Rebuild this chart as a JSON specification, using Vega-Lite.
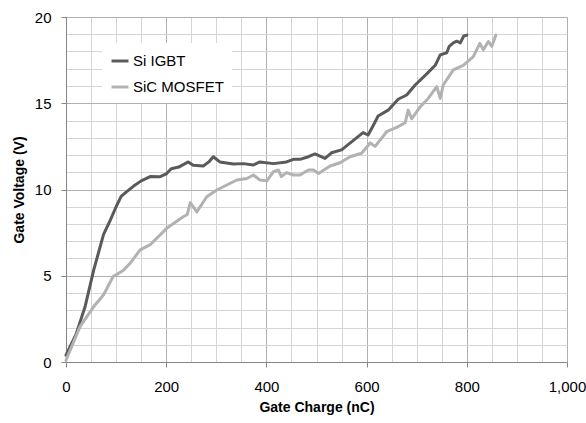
{
  "$schema": "https://vega.github.io/schema/vega-lite/v6.json",
  "autosize": "none",
  "width": 501,
  "height": 345,
  "padding": {"left": 66, "top": 17, "right": 19, "bottom": 61},
  "background": "white",
  "config": {
    "view": {"stroke": null},
    "font": "Liberation Sans"
  },
  "datasets": {
    "curves": [
      {"q": 0, "v": 0.4, "series": "Si IGBT"},
      {"q": 20, "v": 1.6, "series": "Si IGBT"},
      {"q": 38, "v": 3.2, "series": "Si IGBT"},
      {"q": 55, "v": 5.3, "series": "Si IGBT"},
      {"q": 75, "v": 7.4, "series": "Si IGBT"},
      {"q": 88, "v": 8.2, "series": "Si IGBT"},
      {"q": 100, "v": 9.0, "series": "Si IGBT"},
      {"q": 110, "v": 9.6, "series": "Si IGBT"},
      {"q": 120, "v": 9.85, "series": "Si IGBT"},
      {"q": 135, "v": 10.2, "series": "Si IGBT"},
      {"q": 150, "v": 10.5, "series": "Si IGBT"},
      {"q": 168, "v": 10.75, "series": "Si IGBT"},
      {"q": 188, "v": 10.74, "series": "Si IGBT"},
      {"q": 200, "v": 10.9, "series": "Si IGBT"},
      {"q": 210, "v": 11.2, "series": "Si IGBT"},
      {"q": 225, "v": 11.3, "series": "Si IGBT"},
      {"q": 244, "v": 11.6, "series": "Si IGBT"},
      {"q": 254, "v": 11.4, "series": "Si IGBT"},
      {"q": 274, "v": 11.36, "series": "Si IGBT"},
      {"q": 285, "v": 11.6, "series": "Si IGBT"},
      {"q": 294, "v": 11.9, "series": "Si IGBT"},
      {"q": 307, "v": 11.6, "series": "Si IGBT"},
      {"q": 334, "v": 11.48, "series": "Si IGBT"},
      {"q": 354, "v": 11.5, "series": "Si IGBT"},
      {"q": 374, "v": 11.42, "series": "Si IGBT"},
      {"q": 387, "v": 11.6, "series": "Si IGBT"},
      {"q": 414, "v": 11.5, "series": "Si IGBT"},
      {"q": 440, "v": 11.6, "series": "Si IGBT"},
      {"q": 454, "v": 11.75, "series": "Si IGBT"},
      {"q": 467, "v": 11.75, "series": "Si IGBT"},
      {"q": 484, "v": 11.9, "series": "Si IGBT"},
      {"q": 497, "v": 12.06, "series": "Si IGBT"},
      {"q": 517, "v": 11.8, "series": "Si IGBT"},
      {"q": 530, "v": 12.13, "series": "Si IGBT"},
      {"q": 550, "v": 12.3, "series": "Si IGBT"},
      {"q": 573, "v": 12.83, "series": "Si IGBT"},
      {"q": 593, "v": 13.3, "series": "Si IGBT"},
      {"q": 603, "v": 13.16, "series": "Si IGBT"},
      {"q": 613, "v": 13.7, "series": "Si IGBT"},
      {"q": 623, "v": 14.26, "series": "Si IGBT"},
      {"q": 643, "v": 14.6, "series": "Si IGBT"},
      {"q": 663, "v": 15.23, "series": "Si IGBT"},
      {"q": 680, "v": 15.48, "series": "Si IGBT"},
      {"q": 697, "v": 16.06, "series": "Si IGBT"},
      {"q": 720, "v": 16.7, "series": "Si IGBT"},
      {"q": 737, "v": 17.2, "series": "Si IGBT"},
      {"q": 747, "v": 17.8, "series": "Si IGBT"},
      {"q": 760, "v": 17.93, "series": "Si IGBT"},
      {"q": 765, "v": 18.3, "series": "Si IGBT"},
      {"q": 773, "v": 18.5, "series": "Si IGBT"},
      {"q": 780, "v": 18.6, "series": "Si IGBT"},
      {"q": 787, "v": 18.5, "series": "Si IGBT"},
      {"q": 794, "v": 18.9, "series": "Si IGBT"},
      {"q": 800, "v": 18.95, "series": "Si IGBT"},
      {"q": 0, "v": 0.1, "series": "SiC MOSFET"},
      {"q": 28, "v": 2.05, "series": "SiC MOSFET"},
      {"q": 55, "v": 3.2, "series": "SiC MOSFET"},
      {"q": 75, "v": 3.9, "series": "SiC MOSFET"},
      {"q": 94, "v": 4.95, "series": "SiC MOSFET"},
      {"q": 114, "v": 5.3, "series": "SiC MOSFET"},
      {"q": 128, "v": 5.72, "series": "SiC MOSFET"},
      {"q": 148, "v": 6.5, "series": "SiC MOSFET"},
      {"q": 168, "v": 6.8, "series": "SiC MOSFET"},
      {"q": 201, "v": 7.75, "series": "SiC MOSFET"},
      {"q": 234, "v": 8.42, "series": "SiC MOSFET"},
      {"q": 242, "v": 8.55, "series": "SiC MOSFET"},
      {"q": 248, "v": 9.24, "series": "SiC MOSFET"},
      {"q": 261, "v": 8.7, "series": "SiC MOSFET"},
      {"q": 281, "v": 9.58, "series": "SiC MOSFET"},
      {"q": 301, "v": 9.97, "series": "SiC MOSFET"},
      {"q": 321, "v": 10.26, "series": "SiC MOSFET"},
      {"q": 341, "v": 10.55, "series": "SiC MOSFET"},
      {"q": 361, "v": 10.64, "series": "SiC MOSFET"},
      {"q": 374, "v": 10.84, "series": "SiC MOSFET"},
      {"q": 387, "v": 10.55, "series": "SiC MOSFET"},
      {"q": 401, "v": 10.5, "series": "SiC MOSFET"},
      {"q": 414, "v": 11.04, "series": "SiC MOSFET"},
      {"q": 424, "v": 11.13, "series": "SiC MOSFET"},
      {"q": 430, "v": 10.75, "series": "SiC MOSFET"},
      {"q": 440, "v": 10.98, "series": "SiC MOSFET"},
      {"q": 454, "v": 10.84, "series": "SiC MOSFET"},
      {"q": 467, "v": 10.84, "series": "SiC MOSFET"},
      {"q": 484, "v": 11.13, "series": "SiC MOSFET"},
      {"q": 494, "v": 11.13, "series": "SiC MOSFET"},
      {"q": 504, "v": 10.93, "series": "SiC MOSFET"},
      {"q": 527, "v": 11.36, "series": "SiC MOSFET"},
      {"q": 547, "v": 11.55, "series": "SiC MOSFET"},
      {"q": 567, "v": 11.9, "series": "SiC MOSFET"},
      {"q": 590, "v": 12.1, "series": "SiC MOSFET"},
      {"q": 607, "v": 12.7, "series": "SiC MOSFET"},
      {"q": 617, "v": 12.5, "series": "SiC MOSFET"},
      {"q": 640, "v": 13.35, "series": "SiC MOSFET"},
      {"q": 660, "v": 13.6, "series": "SiC MOSFET"},
      {"q": 677, "v": 13.87, "series": "SiC MOSFET"},
      {"q": 683, "v": 14.6, "series": "SiC MOSFET"},
      {"q": 690, "v": 14.1, "series": "SiC MOSFET"},
      {"q": 707, "v": 14.8, "series": "SiC MOSFET"},
      {"q": 723, "v": 15.28, "series": "SiC MOSFET"},
      {"q": 740, "v": 15.96, "series": "SiC MOSFET"},
      {"q": 747, "v": 15.28, "series": "SiC MOSFET"},
      {"q": 753, "v": 16.06, "series": "SiC MOSFET"},
      {"q": 773, "v": 16.93, "series": "SiC MOSFET"},
      {"q": 793, "v": 17.2, "series": "SiC MOSFET"},
      {"q": 813, "v": 17.7, "series": "SiC MOSFET"},
      {"q": 826, "v": 18.47, "series": "SiC MOSFET"},
      {"q": 833, "v": 18.1, "series": "SiC MOSFET"},
      {"q": 843, "v": 18.58, "series": "SiC MOSFET"},
      {"q": 850, "v": 18.3, "series": "SiC MOSFET"},
      {"q": 858, "v": 18.95, "series": "SiC MOSFET"}
    ]
  },
  "data": {"name": "curves"},
  "mark": {"type": "line", "strokeWidth": 3, "strokeJoin": "round", "strokeCap": "round"},
  "encoding": {
    "x": {
      "field": "q",
      "type": "quantitative",
      "scale": {"domain": [0, 1000], "nice": false},
      "axis": {
        "title": "Gate Charge (nC)",
        "titleFontSize": 14,
        "titleFontWeight": "bold",
        "titleColor": "#000",
        "titlePadding": 6,
        "values": [0,50,100,150,200,250,300,350,400,450,500,550,600,650,700,750,800,850,900,950,1000],
        "format": ",d",
        "labelExpr": "datum.value % 200 === 0 ? datum.label : ''",
        "labelFontSize": 15,
        "labelColor": "#000",
        "labelPadding": 12,
        "labelFlush": false,
        "labelOverlap": false,
        "domainColor": "#868686",
        "tickColor": "#868686",
        "tickSize": 5,
        "tickOpacity": {"condition": {"test": "datum.value % 200 === 0", "value": 1}, "value": 0},
        "gridColor": {"condition": {"test": "datum.value % 200 === 0", "value": "#b0b0b0"}, "value": "#d4d4d4"},
        "gridWidth": 1
      }
    },
    "y": {
      "field": "v",
      "type": "quantitative",
      "scale": {"domain": [0, 20], "nice": false},
      "axis": {
        "title": "Gate Voltage (V)",
        "titleFontSize": 14,
        "titleFontWeight": "bold",
        "titleColor": "#000",
        "titlePadding": 8,
        "values": [0,1,2,3,4,5,6,7,8,9,10,11,12,13,14,15,16,17,18,19,20],
        "labelExpr": "datum.value % 5 === 0 ? datum.label : ''",
        "labelFontSize": 15,
        "labelColor": "#000",
        "labelPadding": 10,
        "labelOverlap": false,
        "domainColor": "#868686",
        "tickColor": "#868686",
        "tickSize": 5,
        "tickOpacity": {"condition": {"test": "datum.value % 5 === 0", "value": 1}, "value": 0},
        "gridColor": {"condition": {"test": "datum.value % 5 === 0", "value": "#b0b0b0"}, "value": "#d4d4d4"},
        "gridWidth": 1
      }
    },
    "color": {
      "field": "series",
      "type": "nominal",
      "sort": ["Si IGBT", "SiC MOSFET"],
      "scale": {"domain": ["Si IGBT", "SiC MOSFET"], "range": ["#5a5a5a", "#b2b2b2"]},
      "legend": {
        "title": null,
        "orient": "none",
        "legendX": 36,
        "legendY": 26,
        "fillColor": "white",
        "padding": 8,
        "symbolType": "stroke",
        "symbolSize": 289,
        "symbolStrokeWidth": 3,
        "labelFontSize": 15,
        "labelColor": "#000",
        "labelOffset": 3,
        "rowPadding": 8
      }
    }
  }
}
